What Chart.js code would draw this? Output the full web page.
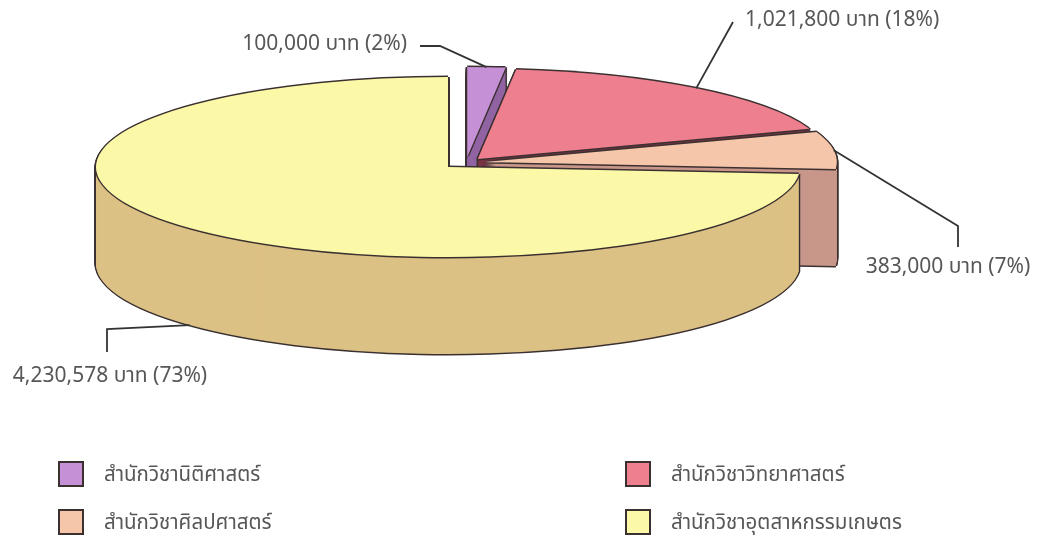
<!DOCTYPE html>
<html>
<head>
<meta charset="utf-8">
<script src="https://cdn.jsdelivr.net/npm/chart.js@4.4.1/dist/chart.umd.min.js"></script>
<style>
  html, body { margin: 0; padding: 0; background: #fff; }
  #wrap { position: relative; width: 1039px; height: 535px; overflow: hidden; }
  #chart { position: absolute; left: 0; top: 0; }
  #legend { position: absolute; left: 58px; top: 461px; display: grid; grid-template-columns: 567px 320px; row-gap: 22px; }
  .item { display: flex; align-items: center; height: 26px; font: 20.5px 'Noto Sans Thai', 'Noto Sans', 'DejaVu Sans', sans-serif; color: #575757; }
  .box { width: 22px; height: 22px; border: 2px solid #3a3030; margin-right: 20px; }
</style>
</head>
<body>
<div id="wrap">
  <canvas id="chart" width="1039" height="535"></canvas>
  <div id="legend"></div>
</div>
<script>
const categories = ['สำนักวิชานิติศาสตร์', 'สำนักวิชาวิทยาศาสตร์', 'สำนักวิชาศิลปศาสตร์', 'สำนักวิชาอุตสาหกรรมเกษตร'];
const budget = [100000, 1021800, 383000, 4230578];
const percentLabels = [2, 18, 7, 73];

const topColors = ['#c690d6', '#ee7f8f', '#f6c6ab', '#fbf9a8'];
const sideColors = ['#9264a3', '#7a3445', '#c8978a', '#dcc185'];
const edgeColor = '#3a3030';

// fake 3d: the library lays out a flat pie, we squash it and stack it
const pie3d = {
	id: 'pie3d',
	beforeDatasetsDraw(chart, args, opts) {
		const ctx = chart.ctx;
		const r = chart.currentDevicePixelRatio;
		const arcs = chart.getDatasetMeta(0).data;
		arcs.forEach((arc, i) => {
			const { x, y, startAngle, endAngle } = arc.getProps(['x', 'y', 'startAngle', 'endAngle']);
			const mid = (startAngle + endAngle) / 2;
			const ex = Math.cos(mid) * opts.explode[i];
			const ey = Math.sin(mid) * opts.explode[i];
			const paint = (color, dx, dy) => {
				ctx.save();
				ctx.setTransform(r, 0, 0, r * opts.tilt,
					r * (opts.cx - x + ex + dx),
					r * (opts.cy - opts.tilt * y + opts.tilt * ey + dy));
				const saved = arc.options;
				arc.options = Object.assign({}, saved, { backgroundColor: color, borderWidth: 0 });
				arc.draw(ctx);
				arc.options = saved;
				ctx.restore();
			};
			const depth = opts.depth, w = opts.line;
			for (let d = depth; d >= 0; d--) {
				paint(edgeColor, -w, d);
				paint(edgeColor, w, d);
			}
			paint(edgeColor, 0, depth + w);
			for (let d = depth; d >= 0; d--) paint(sideColors[i], 0, d);
			paint(edgeColor, -w, 0);
			paint(edgeColor, w, 0);
			paint(edgeColor, 0, -w);
			paint(edgeColor, 0, w);
			paint(topColors[i], 0, 0);
		});
		return false;
	}
};

// value labels with leader lines
const callouts = {
	id: 'callouts',
	afterDraw(chart, args, opts) {
		const ctx = chart.ctx;
		const p3 = chart.options.plugins.pie3d;
		const arcs = chart.getDatasetMeta(0).data;
		arcs.forEach((arc, i) => {
			const { startAngle, endAngle, outerRadius } = arc.getProps(['startAngle', 'endAngle', 'outerRadius']);
			const mid = (startAngle + endAngle) / 2;
			const ex = Math.cos(mid) * p3.explode[i];
			const ey = Math.sin(mid) * p3.explode[i];
			const ax = p3.cx + ex + outerRadius * Math.cos(mid);
			const ay = p3.cy + p3.tilt * (ey + outerRadius * Math.sin(mid)) + (opts.onSide[i] ? p3.depth : 0);
			ctx.save();
			ctx.strokeStyle = '#333';
			ctx.lineWidth = 1.8;
			ctx.beginPath();
			ctx.moveTo(ax, ay);
			opts.elbows[i].forEach(([px, py]) => ctx.lineTo(px, py));
			ctx.stroke();
			ctx.fillStyle = '#575757';
			ctx.font = opts.font;
			ctx.textAlign = opts.align[i];
			ctx.textBaseline = 'middle';
			const text = budget[i].toLocaleString('en-US') + ' บาท (' + percentLabels[i] + '%)';
			ctx.fillText(text, opts.textPos[i][0], opts.textPos[i][1]);
			ctx.restore();
		});
	}
};

const chart = new Chart(document.getElementById('chart'), {
	type: 'pie',
	data: {
		labels: categories,
		datasets: [{
			data: budget,
			backgroundColor: topColors,
			borderWidth: 0
		}]
	},
	options: {
		responsive: false,
		animation: false,
		events: [],
		radius: 352,
		plugins: {
			legend: { display: false },
			tooltip: { enabled: false },
			pie3d: {
				cx: 466,
				cy: 162.75,
				tilt: 90 / 352,
				depth: 97,
				line: 1.5,
				explode: [22.5, 19, 19, 24.5]
			},
			callouts: {
				font: "21px 'Noto Sans Thai', 'Noto Sans', 'DejaVu Sans', sans-serif",
				onSide: [false, false, false, true],
				elbows: [[[440, 46], [420, 46]], [[733, 22]], [[958, 226], [958, 247]], [[107, 329], [107, 352]]],
				textPos: [[407, 46], [745, 22], [948, 269], [110, 378]],
				align: ['right', 'left', 'center', 'center']
			}
		}
	},
	plugins: [pie3d, callouts]
});

// html legend, two columns
const legendEl = document.getElementById('legend');
chart.data.labels.forEach((label, i) => {
	const item = document.createElement('div');
	item.className = 'item';
	const box = document.createElement('span');
	box.className = 'box';
	box.style.background = chart.data.datasets[0].backgroundColor[i];
	item.appendChild(box);
	item.appendChild(document.createTextNode(label));
	legendEl.appendChild(item);
});
</script>
</body>
</html>
